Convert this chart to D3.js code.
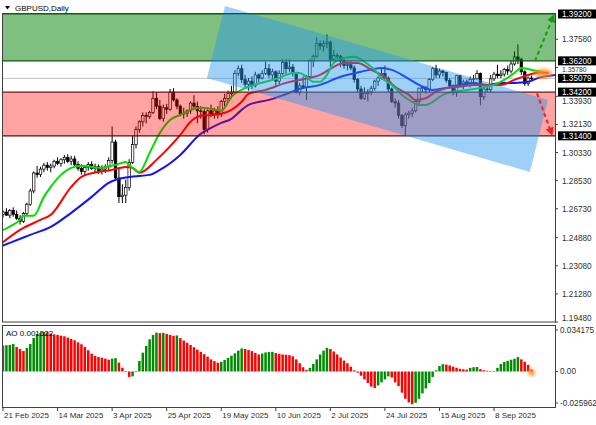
<!DOCTYPE html>
<html><head><meta charset="utf-8">
<script src="https://cdn.jsdelivr.net/npm/d3@7"></script>
<style>
body{margin:0;background:#fff}
svg{display:block}
text{font-family:"Liberation Sans",Arial,sans-serif}
</style>
</head><body>
<svg id="chart" width="596" height="425"></svg>
<script>
// ---------------- DATA ----------------
const chartTitle = "GBPUSD,Daily";
const dateLabelBars = [0, 16, 32, 48, 64, 80, 96, 112, 128, 144];
const dateLabels = ["21 Feb 2025","14 Mar 2025","3 Apr 2025","25 Apr 2025","19 May 2025","10 Jun 2025","2 Jul 2025","24 Jul 2025","15 Aug 2025","8 Sep 2025"];

const openPrices = [
1.2637,1.2652,1.2632,1.2662,1.2637,1.2612,1.2592,1.2642,1.2702,1.2787,
1.2902,1.2892,1.2927,1.2952,1.2937,1.2947,1.2977,1.2962,1.2987,1.3002,
1.2977,1.2992,1.2957,1.2932,1.2912,1.2937,1.2957,1.2932,1.2942,1.2912,
1.2927,1.2942,1.2982,1.3100,1.2870,1.2750,1.2760,1.2810,1.2970,1.3085,
1.3180,1.3230,1.3270,1.3265,1.3290,1.3380,1.3330,1.3250,1.3320,1.3310,
1.3420,1.3370,1.3330,1.3280,1.3285,1.3300,1.3350,1.3330,1.3300,1.3295,
1.3180,1.3300,1.3280,1.3300,1.3280,1.3360,1.3380,1.3410,1.3420,1.3540,
1.3570,1.3500,1.3470,1.3490,1.3460,1.3530,1.3510,1.3540,1.3570,1.3530,
1.3550,1.3490,1.3540,1.3610,1.3570,1.3580,1.3540,1.3420,1.3460,1.3450,
1.3520,1.3620,1.3650,1.3730,1.3715,1.3730,1.3740,1.3630,1.3655,1.3650,
1.3620,1.3590,1.3595,1.3575,1.3500,1.3440,1.3380,1.3410,1.3420,1.3445,
1.3490,1.3510,1.3540,1.3510,1.3440,1.3360,1.3350,1.3270,1.3205,1.3275,
1.3285,1.3300,1.3360,1.3445,1.3450,1.3435,1.3500,1.3570,1.3530,1.3555,
1.3545,1.3495,1.3460,1.3415,1.3525,1.3465,1.3485,1.3465,1.3500,1.3505,
1.3540,1.3390,1.3440,1.3435,1.3505,1.3535,1.3525,1.3535,1.3565,1.3555,
1.3600,1.3645,1.3630,1.3550,1.3475,1.3510];
const highPrices = [
1.2662,1.2677,1.2672,1.2682,1.2662,1.2632,1.2652,1.2712,1.2802,1.2912,
1.2947,1.2942,1.2967,1.2972,1.2962,1.2987,1.3002,1.2997,1.3017,1.3022,
1.3012,1.3012,1.2977,1.2957,1.2947,1.2972,1.2977,1.2962,1.2957,1.2952,
1.2957,1.3002,1.3200,1.3115,1.2935,1.2830,1.2860,1.2990,1.3140,1.3200,
1.3240,1.3290,1.3290,1.3300,1.3425,1.3420,1.3370,1.3340,1.3345,1.3440,
1.3445,1.3380,1.3340,1.3320,1.3310,1.3360,1.3400,1.3360,1.3330,1.3310,
1.3310,1.3340,1.3320,1.3330,1.3370,1.3410,1.3430,1.3460,1.3560,1.3590,
1.3595,1.3530,1.3510,1.3520,1.3550,1.3540,1.3560,1.3615,1.3600,1.3570,
1.3560,1.3560,1.3630,1.3630,1.3630,1.3600,1.3550,1.3480,1.3520,1.3530,
1.3630,1.3660,1.3770,1.3750,1.3750,1.3790,1.3750,1.3690,1.3670,1.3660,
1.3630,1.3620,1.3620,1.3590,1.3510,1.3460,1.3450,1.3440,1.3460,1.3500,
1.3520,1.3580,1.3590,1.3520,1.3450,1.3380,1.3370,1.3280,1.3290,1.3300,
1.3320,1.3370,1.3450,1.3460,1.3460,1.3510,1.3580,1.3595,1.3570,1.3560,
1.3550,1.3510,1.3470,1.3530,1.3530,1.3500,1.3500,1.3520,1.3530,1.3560,
1.3545,1.3450,1.3470,1.3530,1.3550,1.3595,1.3560,1.3575,1.3590,1.3620,
1.3680,1.3726,1.3640,1.3560,1.3520,1.3525];
const lowPrices = [
1.2617,1.2627,1.2612,1.2622,1.2602,1.2572,1.2582,1.2632,1.2692,1.2772,
1.2872,1.2877,1.2907,1.2917,1.2907,1.2932,1.2952,1.2942,1.2962,1.2967,
1.2952,1.2947,1.2917,1.2892,1.2887,1.2917,1.2922,1.2902,1.2897,1.2892,
1.2902,1.2912,1.2962,1.2855,1.2710,1.2710,1.2710,1.2790,1.2960,1.3060,
1.3160,1.3200,1.3220,1.3250,1.3280,1.3310,1.3240,1.3230,1.3280,1.3300,
1.3360,1.3310,1.3265,1.3250,1.3260,1.3280,1.3310,1.3220,1.3250,1.3150,
1.3160,1.3260,1.3250,1.3250,1.3260,1.3330,1.3350,1.3380,1.3410,1.3520,
1.3480,1.3450,1.3430,1.3440,1.3450,1.3480,1.3500,1.3530,1.3510,1.3500,
1.3460,1.3470,1.3530,1.3530,1.3550,1.3520,1.3410,1.3400,1.3440,1.3370,
1.3510,1.3580,1.3640,1.3690,1.3680,1.3700,1.3580,1.3620,1.3630,1.3580,
1.3570,1.3560,1.3560,1.3480,1.3420,1.3370,1.3370,1.3360,1.3400,1.3430,
1.3460,1.3500,1.3500,1.3420,1.3350,1.3320,1.3250,1.3190,1.3140,1.3250,
1.3260,1.3290,1.3340,1.3420,1.3410,1.3420,1.3490,1.3510,1.3510,1.3520,
1.3480,1.3440,1.3400,1.3390,1.3450,1.3440,1.3460,1.3450,1.3470,1.3500,
1.3335,1.3370,1.3420,1.3420,1.3490,1.3510,1.3510,1.3520,1.3530,1.3540,
1.3590,1.3600,1.3530,1.3460,1.3460,1.3490];
const closePrices = [
1.2652,1.2632,1.2662,1.2637,1.2612,1.2592,1.2642,1.2702,1.2787,1.2902,
1.2892,1.2927,1.2952,1.2937,1.2947,1.2977,1.2962,1.2987,1.3002,1.2977,
1.2992,1.2957,1.2932,1.2912,1.2937,1.2957,1.2932,1.2942,1.2912,1.2927,
1.2942,1.2982,1.3100,1.2870,1.2750,1.2760,1.2810,1.2970,1.3085,1.3180,
1.3230,1.3270,1.3265,1.3290,1.3380,1.3330,1.3250,1.3320,1.3310,1.3420,
1.3370,1.3330,1.3280,1.3285,1.3300,1.3350,1.3330,1.3300,1.3295,1.3180,
1.3300,1.3280,1.3300,1.3280,1.3360,1.3380,1.3410,1.3420,1.3540,1.3570,
1.3500,1.3470,1.3490,1.3460,1.3530,1.3510,1.3540,1.3570,1.3530,1.3550,
1.3490,1.3540,1.3610,1.3570,1.3580,1.3540,1.3420,1.3460,1.3450,1.3520,
1.3620,1.3650,1.3730,1.3715,1.3730,1.3740,1.3630,1.3655,1.3650,1.3620,
1.3590,1.3595,1.3575,1.3500,1.3440,1.3380,1.3410,1.3420,1.3445,1.3490,
1.3510,1.3540,1.3510,1.3440,1.3360,1.3350,1.3270,1.3205,1.3275,1.3285,
1.3300,1.3360,1.3445,1.3450,1.3435,1.3500,1.3570,1.3530,1.3555,1.3545,
1.3495,1.3460,1.3415,1.3525,1.3465,1.3485,1.3465,1.3500,1.3505,1.3540,
1.3390,1.3440,1.3435,1.3505,1.3535,1.3525,1.3535,1.3565,1.3555,1.3600,
1.3645,1.3630,1.3550,1.3475,1.3510,1.3508];

// Alligator lines (bar index, price)
const lipsBars = [-1,2,5,6,9,12,14,17,20,23,28,33,36,37,40,43,46,49,52,55,58,61,64,67,72,77,81,85,87,89,91,93,95,97,100,103,106,109,111,114,117,120,122,124,126,129,132,136,140,144,147,150,152,155,158];
const lipsValues = [1.2527,1.2559,1.2602,1.2628,1.2628,1.2749,1.2813,1.2890,1.2935,1.2948,1.2935,1.2954,1.2973,1.2954,1.2909,1.3031,1.3159,1.3242,1.3274,1.3306,1.3319,1.3313,1.3300,1.3390,1.3454,1.3486,1.3511,1.3543,1.3543,1.3518,1.3486,1.3486,1.3530,1.3607,1.3639,1.3646,1.3614,1.3562,1.3511,1.3466,1.3402,1.3358,1.3338,1.3338,1.3358,1.3402,1.3422,1.3434,1.3447,1.3466,1.3498,1.3543,1.3575,1.3562,1.3550];
const teethBars = [-1,5,11,14,20,23,28,32,36,38,40,45,48,52,55,58,61,64,67,70,72,77,83,87,90,93,97,100,104,108,113,114,119,121,124,127,130,134,138,142,146,150,154,158,160];
const teethValues = [1.2442,1.2538,1.2602,1.2634,1.2813,1.2877,1.2909,1.2922,1.2941,1.2935,1.2903,1.2986,1.3050,1.3146,1.3230,1.3268,1.3274,1.3281,1.3306,1.3358,1.3409,1.3434,1.3479,1.3498,1.3511,1.3530,1.3582,1.3607,1.3607,1.3562,1.3498,1.3473,1.3402,1.3370,1.3381,1.3423,1.3445,1.3455,1.3466,1.3466,1.3466,1.3498,1.3530,1.3545,1.3543];
const jawBars = [-1,2,8,14,20,26,31,37,43,46,52,58,61,64,67,70,72,78,84,87,93,99,105,111,114,118,122,126,130,134,138,142,146,150,154,157,162];
const jawValues = [1.2429,1.2455,1.2506,1.2557,1.2647,1.2749,1.2839,1.2877,1.2890,1.2922,1.3018,1.3153,1.3191,1.3223,1.3249,1.3306,1.3338,1.3370,1.3415,1.3441,1.3466,1.3518,1.3550,1.3575,1.3562,1.3518,1.3466,1.3434,1.3447,1.3466,1.3479,1.3466,1.3479,1.3479,1.3486,1.3511,1.3530];

// Awesome Oscillator
const aoValues = [
0.0214,0.0216,0.0219,0.0226,0.0202,0.0185,0.0169,0.0194,0.0226,0.0276,
0.0309,0.0317,0.0325,0.0322,0.0312,0.0306,0.0301,0.0295,0.0290,0.0279,
0.0268,0.0257,0.0240,0.0224,0.0202,0.0175,0.0147,0.0128,0.0119,0.0114,
0.0106,0.0097,0.0106,0.0110,0.0073,0.0031,0.0004,-0.0045,-0.0040,0.0004,
0.0086,0.0155,0.0210,0.0265,0.0301,0.0320,0.0316,0.0318,0.0310,0.0302,
0.0294,0.0297,0.0275,0.0255,0.0237,0.0218,0.0200,0.0180,0.0162,0.0143,
0.0122,0.0100,0.0085,0.0073,0.0080,0.0095,0.0112,0.0130,0.0150,0.0172,
0.0190,0.0185,0.0178,0.0168,0.0152,0.0140,0.0148,0.0157,0.0160,0.0162,
0.0152,0.0145,0.0140,0.0138,0.0135,0.0125,0.0100,0.0068,0.0035,0.0012,
0.0030,0.0062,0.0100,0.0140,0.0172,0.0195,0.0185,0.0165,0.0140,0.0115,
0.0090,0.0068,0.0040,0.0010,-0.0010,-0.0035,-0.0065,-0.0095,-0.0125,-0.0136,
-0.0115,-0.0090,-0.0065,-0.0040,-0.0050,-0.0090,-0.0120,-0.0175,-0.0225,-0.0255,
-0.0270,-0.0258,-0.0225,-0.0180,-0.0140,-0.0095,-0.0045,0.0010,0.0045,0.0060,
0.0057,0.0050,0.0040,0.0030,0.0022,0.0018,0.0015,0.0030,0.0035,0.0037,
0.0020,0.0010,0.0006,0.0005,0.0004,0.0030,0.0062,0.0078,0.0088,0.0097,
0.0105,0.0119,0.0100,0.0080,0.0055,0.001522];
const aoLabel = "AO 0.001522";

// Axis labels & levels
const priceGridLabels = [1.3758, 1.3578, 1.3393, 1.3213, 1.3033, 1.2853, 1.2673, 1.2488, 1.2308, 1.2128, 1.1948];
const markedLevels = [1.392, 1.362, 1.342, 1.314];
const lastPrice = 1.35079;
const buyZone = [1.362, 1.392];
const sellZone = [1.314, 1.342];
const aoTickValues = [0.034175, 0, -0.025962];
const aoTickLabels = ["0.034175", "0.00", "-0.025962"];
// Channel corners and target arrows (bar index, price)
const channelCorners = [[65.1, 1.3972], [59.8, 1.3511], [154.5, 1.2909], [159.8, 1.3370]];
const upArrow = [[156.0, 1.3618], [161.2, 1.3895]];
const downArrow = [[156.6, 1.3412], [160.7, 1.3165]];
const priceDomain = [1.1948, 1.392];
const aoDomain = [-0.025962, 0.034175];

// ---------------- LAYOUT ----------------
const svg = d3.select("#chart");
const L = 2, R = 555, mainTop = 14, mainBot = 322, aoTop = 325, aoBot = 407;
const x = d3.scaleLinear().domain([0, 160]).range([3, 3 + 3.41 * 160]);
const y = d3.scaleLinear().domain(priceDomain).range([mainBot, mainTop]);
const ya = d3.scaleLinear().domain(aoDomain).range([403, 330]);
const N = closePrices.length;

const defs = svg.append("defs");
defs.append("clipPath").attr("id", "clipMain").append("rect")
  .attr("x", L).attr("y", mainTop).attr("width", R - L).attr("height", mainBot - mainTop);
defs.append("clipPath").attr("id", "clipAO").append("rect")
  .attr("x", L).attr("y", aoTop).attr("width", R - L).attr("height", aoBot - aoTop);
const blur = defs.append("filter").attr("id", "glow").attr("x", "-50%").attr("y", "-50%").attr("width", "200%").attr("height", "200%");
blur.append("feGaussianBlur").attr("stdDeviation", 1.6);
function marker(id, color) {
  defs.append("marker").attr("id", id).attr("viewBox", "0 0 10 10").attr("refX", 5).attr("refY", 5)
    .attr("markerWidth", 4.2).attr("markerHeight", 4.2).attr("orient", "auto")
    .append("path").attr("d", "M0,0L10,5L0,10z").attr("fill", color);
}
marker("arrG", "#169a16");
marker("arrR", "#f02020");

svg.append("rect").attr("width", 596).attr("height", 425).attr("fill", "#fff");

// ---------------- MAIN PANEL ----------------
const main = svg.append("g").attr("clip-path", "url(#clipMain)");
main.append("line").attr("x1", L).attr("x2", R).attr("y1", y(lastPrice)).attr("y2", y(lastPrice))
  .attr("stroke", "#c0c0c0").attr("stroke-width", 1);

const idx = d3.range(N);
main.append("g").selectAll("line").data(idx).join("line")
  .attr("x1", i => x(i)).attr("x2", i => x(i))
  .attr("y1", i => y(highPrices[i])).attr("y2", i => y(lowPrices[i]))
  .attr("stroke", "#000").attr("stroke-width", 1);
main.append("g").selectAll("rect").data(idx).join("rect")
  .attr("x", i => x(i) - 1.25).attr("width", 2.5)
  .attr("y", i => y(Math.max(openPrices[i], closePrices[i])))
  .attr("height", i => Math.max(0.8, Math.abs(y(openPrices[i]) - y(closePrices[i]))))
  .attr("fill", i => closePrices[i] >= openPrices[i] ? "#fff" : "#000")
  .attr("stroke", "#000").attr("stroke-width", 0.7);

const lineGen = d3.line().x(d => x(d[0])).y(d => y(d[1])).curve(d3.curveMonotoneX);
function drawLine(bars, vals, color) {
  main.append("path").datum(bars.map((b, k) => [b, vals[k]]))
    .attr("d", lineGen).attr("fill", "none").attr("stroke", color).attr("stroke-width", 2);
}
drawLine(jawBars, jawValues, "#1414f0");
drawLine(teethBars, teethValues, "#ff0000");
drawLine(lipsBars, lipsValues, "#00e000");

// channel (not clipped at top)
svg.append("polygon")
  .attr("points", channelCorners.map(c => [x(c[0]), y(c[1])].join(",")).join(" "))
  .attr("fill", "rgba(40,150,240,0.45)");

// zones
const zones = main.append("g");
zones.append("rect").attr("x", L).attr("width", R - L)
  .attr("y", y(buyZone[1])).attr("height", y(buyZone[0]) - y(buyZone[1]))
  .attr("fill", "rgba(0,128,0,0.5)");
zones.append("rect").attr("x", L).attr("width", R - L)
  .attr("y", y(sellZone[1])).attr("height", y(sellZone[0]) - y(sellZone[1]))
  .attr("fill", "rgba(255,0,0,0.36)");
[[buyZone[0], "#0a5a0a"], [buyZone[1], "#0a5a0a"], [sellZone[1], "#6a1a1a"], [sellZone[0], "#4a1010"]].forEach(([p, c]) => {
  zones.append("line").attr("x1", L).attr("x2", R).attr("y1", y(p)).attr("y2", y(p))
    .attr("stroke", c).attr("stroke-width", 1.2);
});

// glow at line ends
main.append("ellipse").attr("cx", x(158.5)).attr("cy", y(1.3537)).attr("rx", 9).attr("ry", 5)
  .attr("fill", "rgba(255,140,30,0.75)").attr("filter", "url(#glow)");

// arrows
function arrow(pts, color, mk) {
  svg.append("line").attr("x1", x(pts[0][0])).attr("y1", y(pts[0][1]))
    .attr("x2", x(pts[1][0])).attr("y2", y(pts[1][1]))
    .attr("stroke", color).attr("stroke-width", 2).attr("stroke-dasharray", "4,3")
    .attr("marker-end", `url(#${mk})`);
}
arrow(upArrow, "#169a16", "arrG");
arrow(downArrow, "#f02020", "arrR");

// ---------------- AO PANEL ----------------
const ao = svg.append("g").attr("clip-path", "url(#clipAO)");
ao.selectAll("rect").data(idx).join("rect")
  .attr("x", i => x(i) - 1.25).attr("width", 2.5)
  .attr("y", i => Math.min(ya(0), ya(aoValues[i])))
  .attr("height", i => Math.max(0.6, Math.abs(ya(aoValues[i]) - ya(0))))
  .attr("fill", i => (i === 0 || aoValues[i] >= aoValues[i - 1]) ? "#008c00" : "#ff0000");
ao.append("circle").attr("cx", x(N - 1)).attr("cy", ya(0) + 1).attr("r", 3.5)
  .attr("fill", "rgba(255,140,30,0.8)").attr("filter", "url(#glow)");

// ---------------- FRAMES ----------------
const frame = svg.append("g").attr("fill", "none").attr("stroke", "#404040").attr("stroke-width", 1);
frame.append("rect").attr("x", L + 0.5).attr("y", mainTop - 0.5).attr("width", R - L).attr("height", mainBot - mainTop + 0.5);
frame.append("rect").attr("x", L + 0.5).attr("y", aoTop + 0.5).attr("width", R - L).attr("height", aoBot - aoTop);

// title
svg.append("path").attr("d", "M5,6 L10,6 L7.5,9.5 Z").attr("fill", "#000");
svg.append("text").attr("x", 15).attr("y", 11).attr("font-size", 8).attr("fill", "#000").text(chartTitle);
svg.append("text").attr("x", 6).attr("y", 336).attr("font-size", 8).attr("fill", "#000").text(aoLabel);

// ---------------- RIGHT AXIS ----------------
const axisG = svg.append("g");
const boxHalf = 4.5;
const boxCenters = [...markedLevels, lastPrice].map(p => y(p));
priceGridLabels.forEach(p => {
  const yy = y(p);
  let fs = 8.2, base = Math.min(yy, 318) + 3;
  // keep the label clear of the highlighted price boxes
  boxCenters.forEach(c => {
    const top = base - 0.905 * fs, bot = base + 0.212 * fs;
    if (bot > c - boxHalf && top < c + boxHalf) {
      if (yy >= c) base = c + boxHalf + 0.905 * fs + 0.2;
      else base = c - boxHalf - 0.212 * fs - 0.2;
    }
  });
  boxCenters.forEach(c => {
    const top = base - 0.905 * fs, bot = base + 0.212 * fs;
    if (bot > c - boxHalf && top < c + boxHalf) {
      fs = 6.8; base = c + boxHalf + 0.905 * fs + 0.2;
    }
  });
  axisG.append("line").attr("x1", R).attr("x2", R + 3).attr("y1", yy).attr("y2", yy).attr("stroke", "#404040");
  axisG.append("text").attr("x", 562).attr("y", base).attr("font-size", fs).attr("fill", "#303030")
    .text(p.toFixed(5));
});
[...markedLevels, lastPrice].forEach(p => {
  const yy = y(p);
  axisG.append("rect").attr("x", 558).attr("y", yy - boxHalf).attr("width", 38).attr("height", boxHalf * 2).attr("fill", "#000");
  axisG.append("text").attr("x", 562).attr("y", yy + 3).attr("font-size", 8.2).attr("fill", "#fff")
    .text(p.toFixed(5));
});
aoTickValues.forEach((v, k) => {
  axisG.append("line").attr("x1", R).attr("x2", R + 3).attr("y1", ya(v)).attr("y2", ya(v)).attr("stroke", "#404040");
  axisG.append("text").attr("x", 560).attr("y", ya(v) + 3).attr("font-size", 8.2).attr("fill", "#303030")
    .text(aoTickLabels[k]);
});

// ---------------- BOTTOM AXIS ----------------
dateLabelBars.forEach((b, k) => {
  const xx = x(b);
  axisG.append("line").attr("x1", xx).attr("x2", xx).attr("y1", aoBot).attr("y2", aoBot + 4).attr("stroke", "#404040");
  axisG.append("text").attr("x", xx + 1).attr("y", 418).attr("font-size", 8).attr("fill", "#303030").text(dateLabels[k]);
});
</script>
</body></html>
